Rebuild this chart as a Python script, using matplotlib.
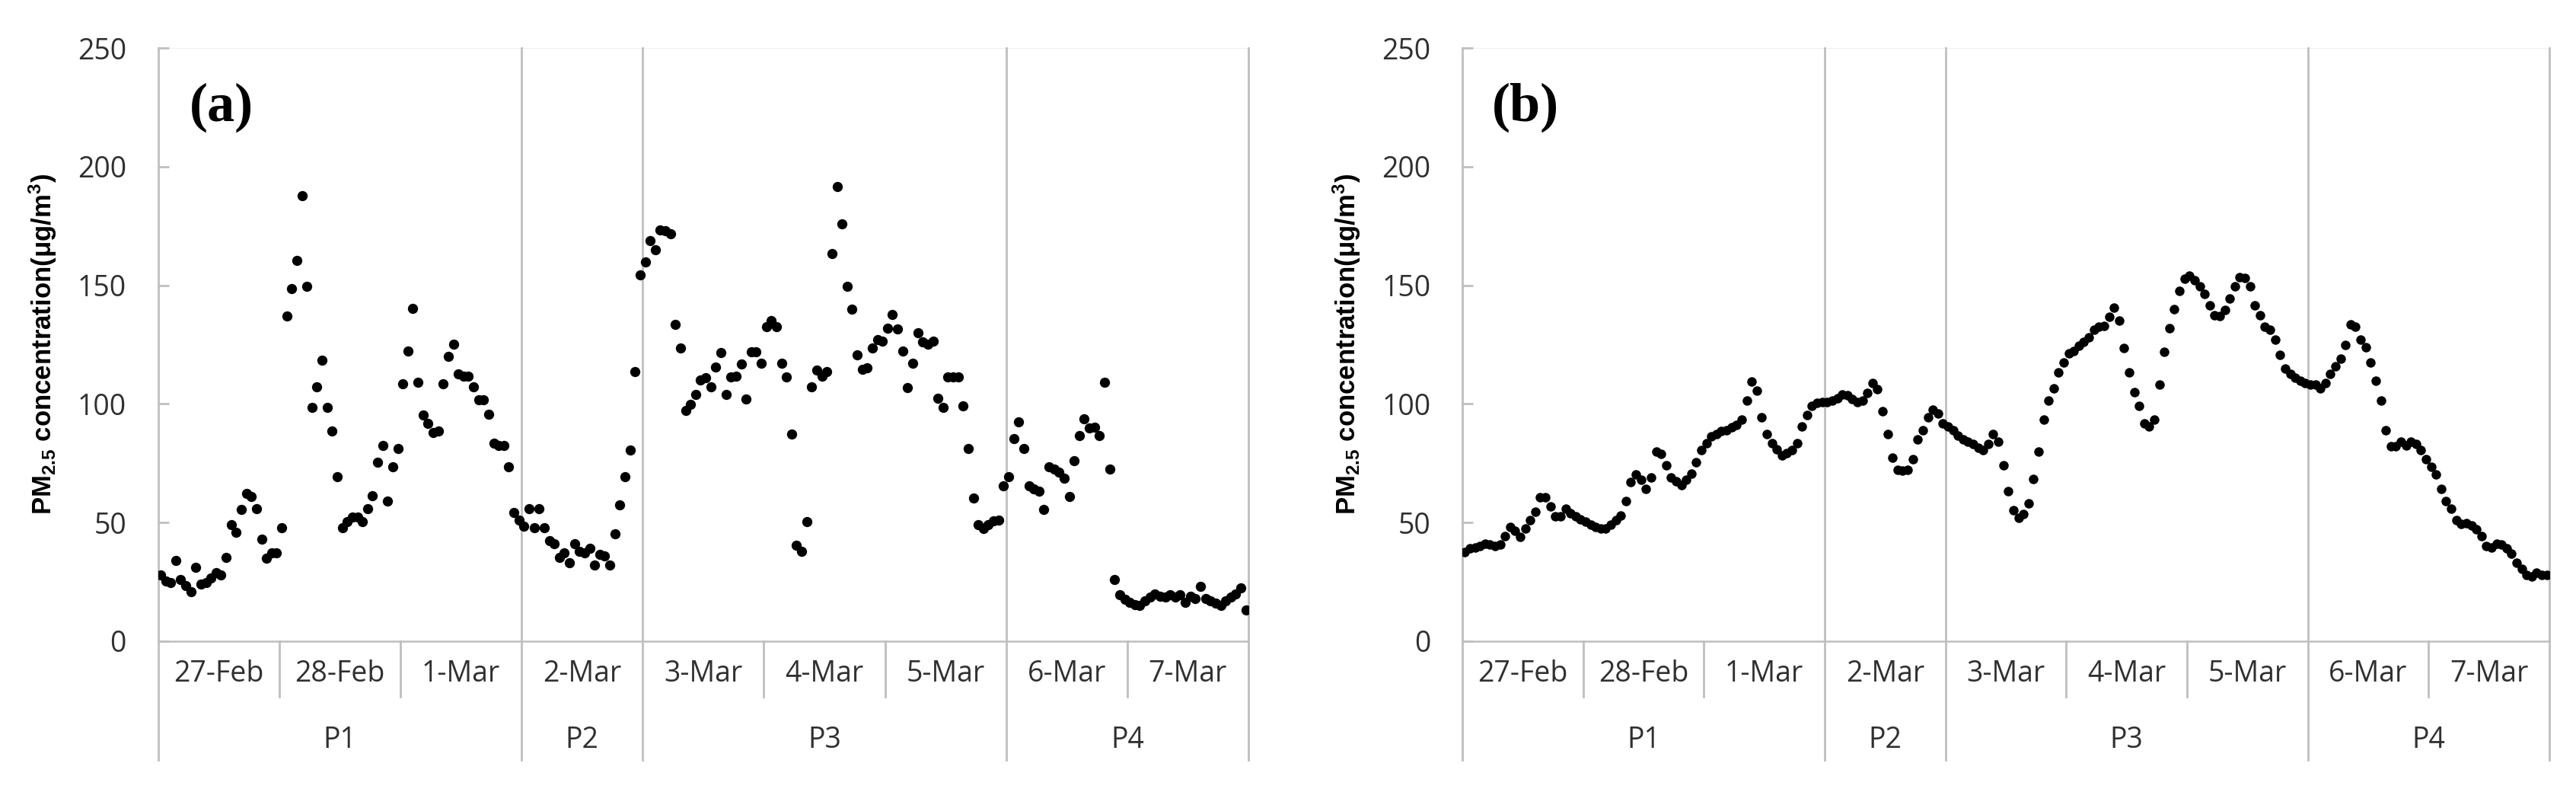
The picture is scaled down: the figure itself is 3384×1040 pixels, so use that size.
import numpy as np
import matplotlib
matplotlib.use('Agg')
import matplotlib.pyplot as plt
from matplotlib.transforms import blended_transform_factory
from matplotlib.lines import Line2D

# ---------------- data ----------------
days = ['27-Feb', '28-Feb', '1-Mar', '2-Mar', '3-Mar', '4-Mar', '5-Mar', '6-Mar', '7-Mar']
periods = ['P1', 'P2', 'P3', 'P4']
period_days = [3, 1, 3, 2]
hours_per_day = 24
panel_labels = ['(a)', '(b)']
yticks = [0, 50, 100, 150, 200, 250]

# hourly PM2.5, panel (a)
pm_a = [
    # 27-Feb
    27.8, 25.3, 24.7, 34.1, 26.0, 23.4, 21.0, 31.0, 24.0, 24.7, 26.6, 29.0,
    27.8, 35.4, 49.0, 46.0, 55.4, 62.3, 61.0, 56.0, 42.9, 35.0, 37.2, 37.2,
    # 28-Feb
    47.9, 137.0, 148.5, 160.4, 187.7, 149.7, 98.4, 107.2, 118.5, 98.4, 88.7, 69.2,
    47.9, 50.4, 52.3, 52.3, 50.4, 56.0, 61.3, 75.5, 82.4, 59.2, 73.4, 81.1,
    # 1-Mar
    108.5, 122.3, 140.3, 109.0, 95.2, 91.8, 88.0, 88.7, 108.5, 120.0, 125.3, 112.5,
    111.8, 111.8, 107.2, 101.8, 101.8, 95.5, 83.4, 82.4, 82.4, 73.6, 54.2, 51.0,
    # 2-Mar
    48.5, 56.0, 47.9, 56.0, 47.9, 42.3, 41.0, 35.4, 37.2, 32.9, 41.0, 37.9,
    37.2, 39.1, 32.2, 36.6, 36.0, 32.2, 45.4, 57.3, 69.2, 80.5, 113.7, 154.5,
    # 3-Mar
    159.9, 168.9, 165.1, 173.3, 172.9, 171.7, 133.4, 123.5, 97.2, 99.9, 104.0, 110.2,
    111.2, 107.1, 115.4, 121.5, 104.0, 111.5, 111.8, 116.9, 102.2, 121.9, 122.1, 117.2,
    # 4-Mar
    132.5, 135.0, 132.5, 117.2, 111.5, 87.4, 40.4, 37.9, 50.4, 107.2, 114.4, 111.8,
    113.7, 163.5, 191.7, 176.0, 149.7, 139.8, 120.6, 114.7, 115.2, 123.5, 127.1, 126.5,
    # 5-Mar
    131.9, 137.6, 131.5, 122.3, 106.8, 117.2, 130.0, 126.0, 125.3, 126.5, 102.4, 98.4,
    111.5, 111.5, 111.5, 99.3, 81.1, 60.4, 49.2, 47.5, 49.2, 50.8, 51.0, 65.5,
    # 6-Mar
    69.2, 85.5, 92.4, 81.1, 65.5, 64.2, 63.3, 55.4, 73.6, 72.4, 71.1, 68.6,
    61.1, 76.1, 86.8, 93.7, 89.9, 90.2, 86.8, 109.0, 72.4, 26.0, 19.7, 17.8,
    # 7-Mar
    16.5, 15.5, 15.0, 17.0, 18.5, 20.0, 19.0, 18.5, 19.5, 18.5, 19.5, 16.5,
    19.0, 18.0, 23.0, 18.0, 17.0, 16.0, 15.0, 17.0, 18.5, 20.0, 22.5, 13.0,
]

# hourly PM2.5, panel (b)
pm_b = [
    # 27-Feb
    37.4, 39.0, 39.6, 40.1, 41.2, 40.7, 40.1, 40.7, 44.4, 48.2, 46.6, 43.9,
    47.6, 50.9, 54.6, 60.5, 60.5, 56.8, 52.5, 52.5, 55.7, 54.0, 52.5, 51.4,
    # 28-Feb
    50.3, 49.2, 48.2, 47.6, 47.6, 49.2, 50.9, 53.0, 58.9, 67.0, 70.2, 68.0,
    64.2, 69.1, 79.9, 78.8, 74.0, 69.1, 67.5, 65.9, 68.0, 70.7, 75.5, 80.4,
    # 1-Mar
    83.6, 86.3, 87.4, 88.5, 89.0, 90.1, 91.1, 93.3, 101.3, 109.4, 105.6, 94.4,
    87.4, 83.6, 80.9, 78.2, 79.3, 80.4, 83.6, 90.6, 95.4, 99.2, 100.3, 100.8,
    # 2-Mar
    100.8, 101.3, 102.4, 104.0, 103.5, 101.9, 100.8, 101.3, 104.6, 108.9, 106.2, 97.0,
    87.4, 77.2, 72.3, 71.8, 72.3, 76.6, 85.0, 89.0, 94.4, 97.6, 96.0, 91.7,
    # 3-Mar
    90.6, 89.0, 86.8, 85.2, 84.1, 83.1, 81.5, 80.4, 83.1, 87.2, 84.1, 74.0,
    63.2, 55.2, 51.9, 53.5, 58.2, 68.3, 79.9, 93.3, 101.3, 106.7, 113.2, 117.5,
    # 4-Mar
    121.2, 122.3, 124.4, 126.0, 128.2, 131.4, 132.5, 133.0, 136.8, 140.5, 135.2, 123.4,
    113.2, 105.1, 99.2, 91.7, 90.6, 93.3, 108.3, 122.0, 132.0, 140.0, 147.5, 152.9,
    # 5-Mar
    154.0, 152.0, 149.7, 146.5, 141.6, 137.3, 137.0, 139.5, 144.3, 149.7, 153.4, 153.1,
    149.7, 141.6, 137.3, 132.5, 131.4, 127.1, 120.7, 114.8, 112.6, 111.0, 109.7, 108.9,
    # 6-Mar
    108.3, 108.3, 106.7, 108.9, 112.6, 115.8, 119.1, 125.0, 133.6, 132.5, 127.1, 123.9,
    117.5, 109.9, 101.3, 89.0, 82.0, 82.0, 84.1, 82.5, 84.1, 83.1, 80.4, 76.6,
    # 7-Mar
    73.4, 70.2, 64.3, 58.9, 55.7, 50.9, 49.3, 49.8, 48.7, 47.1, 44.4, 40.1,
    39.6, 41.2, 40.7, 39.0, 36.9, 33.1, 30.4, 27.8, 27.2, 28.8, 27.8, 27.8,
]

# ---------------- styling ----------------
W, H = 3384, 1040
DPI = 100
GRID = '#bfbfbf'
TXT = '#303030'
TICK_FONT = 'Open Sans'

plt.rcParams['mathtext.default'] = 'regular'

fig = plt.figure(figsize=(W / DPI, H / DPI), dpi=DPI)
fig.patch.set_facecolor('white')

ax_bottom_px = 842
ax_top_px = 63
axes_px = [(207.6, 1640.0), (1921.0, 3349.0)]
ylabel_x_px = [56, 1769]
series = [pm_a, pm_b]
msizes = [9.6, 9.0]

for k, (x0, x1) in enumerate(axes_px):
    ax = fig.add_axes([x0 / W, (H - ax_bottom_px) / H, (x1 - x0) / W,
                       (ax_bottom_px - ax_top_px) / H])
    vals = np.array(series[k])
    n = len(vals)
    x = np.arange(n) + 0.5
    ax.plot(x, vals, 'o', color='black', ms=msizes[k], mew=0, zorder=3)

    ax.set_xlim(0, len(days) * hours_per_day)
    ax.set_ylim(0, 250)
    ax.set_yticks(yticks)
    ax.set_yticklabels([str(t) for t in yticks], fontsize=27, color=TXT,
                       family=TICK_FONT)
    ax.tick_params(axis='y', direction='in', length=10, width=2, color=GRID,
                   pad=30, left=True, right=False)
    ax.set_xticks([])

    for side in ['top', 'right']:
        ax.spines[side].set_visible(False)
    ax.spines['bottom'].set_color(GRID)
    ax.spines['bottom'].set_linewidth(1.8)
    ax.spines['left'].set_visible(False)

    # faint top line
    ax.axhline(250, color='#ececec', lw=1.2, zorder=0)

    trans = blended_transform_factory(ax.transData, ax.transAxes)
    axis_h = ax_bottom_px - ax_top_px
    day_sep_bottom = -(915 - ax_bottom_px) / axis_h
    per_sep_bottom = -(998 - ax_bottom_px) / axis_h
    day_label_y = -(885 - ax_bottom_px) / axis_h
    per_label_y = -(972 - ax_bottom_px) / axis_h

    # period boundaries (full height) and day separators (category area)
    per_edges = np.concatenate([[0], np.cumsum(period_days)]) * hours_per_day
    for e in per_edges:
        ax.add_line(Line2D([e, e], [per_sep_bottom, 1.0], transform=trans,
                           color=GRID, lw=2.0, clip_on=False, zorder=1))
    for d in range(1, len(days)):
        e = d * hours_per_day
        if e in per_edges:
            continue
        ax.add_line(Line2D([e, e], [day_sep_bottom, 0], transform=trans,
                           color=GRID, lw=2.0, clip_on=False, zorder=1))

    for d, lab in enumerate(days):
        ax.text((d + 0.5) * hours_per_day, day_label_y, lab, transform=trans,
                ha='center', va='center', fontsize=27, color=TXT,
                family=TICK_FONT)
    for p, lab in enumerate(periods):
        c = (per_edges[p] + per_edges[p + 1]) / 2
        ax.text(c, per_label_y, lab, transform=trans, ha='center',
                va='center', fontsize=27, color=TXT, family=TICK_FONT)

    ax.text(0.058, 0.90, panel_labels[k], transform=ax.transAxes,
            ha='center', va='center', fontsize=52, fontweight='bold',
            family='Liberation Serif', color='black')

    fig.text(ylabel_x_px[k] / W, (H - 452) / H,
             'PM$_{2.5}$ concentration(μg/m$^3$)', rotation=90,
             ha='center', va='center', fontsize=25, fontweight='bold',
             family='Liberation Sans', color='black')

fig.savefig('out.png', dpi=DPI, facecolor='white')
